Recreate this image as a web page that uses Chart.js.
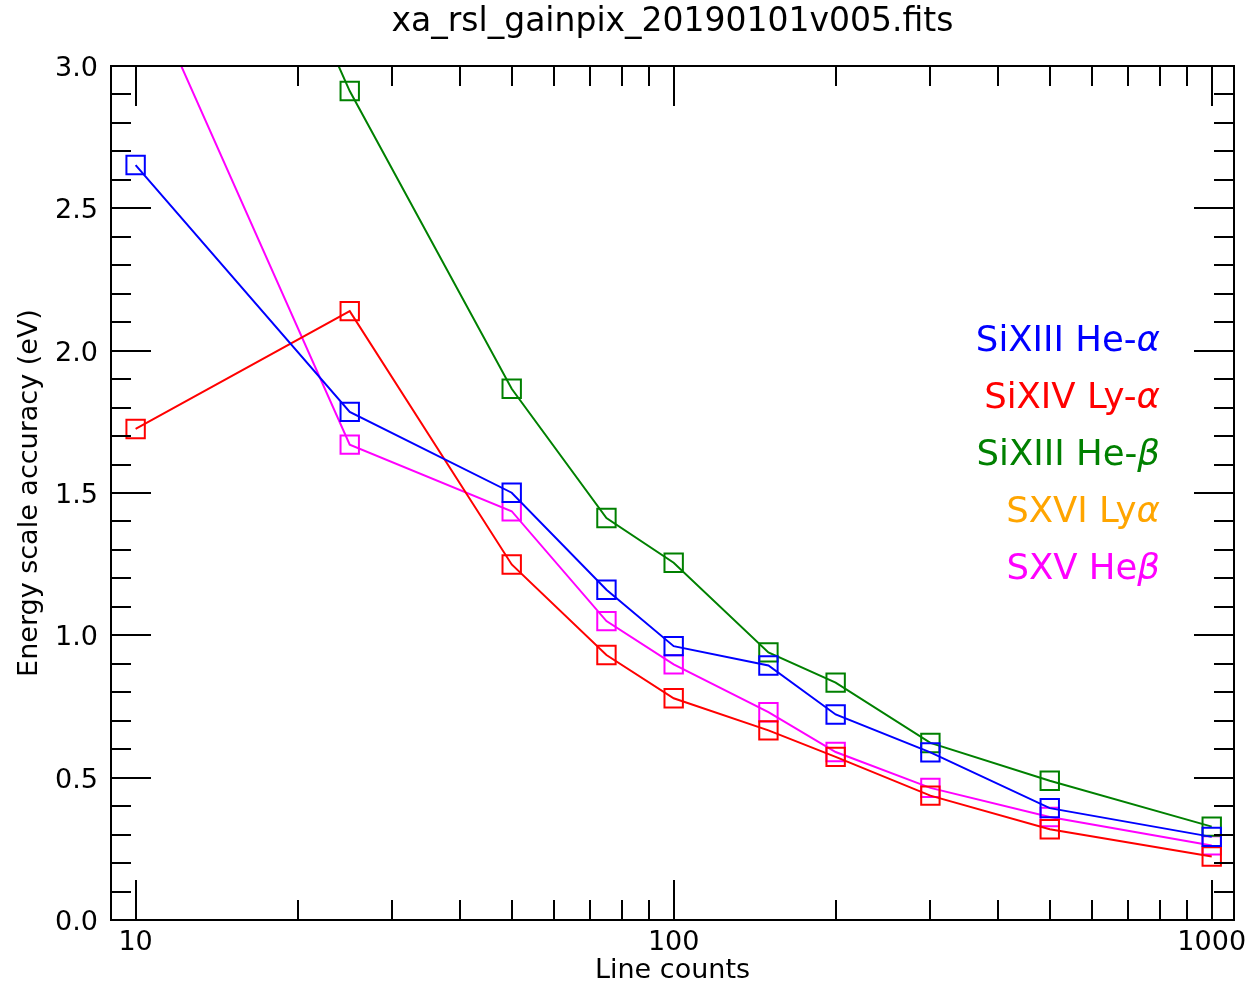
<!DOCTYPE html>
<html>
<head>
<meta charset="utf-8">
<script src="https://cdn.jsdelivr.net/npm/chart.js@4/dist/chart.umd.min.js"></script>
<style>
  body { margin: 0; background: #fff; }
</style>
</head>
<body>
<canvas id="gainChart" width="1247" height="981"></canvas>
<script>
// line counts (x) and energy scale accuracy in eV (y)
const lineCounts = [10, 25, 50, 75, 100, 150, 200, 300, 500, 1000];

const siXIIIHeA = [2.652, 1.785, 1.501, 1.160, 0.962, 0.894, 0.722, 0.589, 0.393, 0.292];
const siXIVLyA  = [1.725, 2.139, 1.249, 0.931, 0.779, 0.666, 0.573, 0.437, 0.319, 0.223];
const siXIIIHeB = [4.6, 2.912, 1.866, 1.412, 1.255, 0.940, 0.834, 0.622, 0.489, 0.328];
const sXVILyA   = [null, null, null, null, null, null, null, null, null, null];
const sXVHeB    = [3.36, 1.670, 1.436, 1.050, 0.898, 0.730, 0.590, 0.464, 0.362, 0.262];

const seriesLabels = ['SiXIII He-α', 'SiXIV Ly-α', 'SiXIII He-β', 'SXVI Lyα', 'SXV Heβ'];
const seriesColors = ['#0000ff', '#ff0000', '#008000', '#ffa500', '#ff00ff'];
const seriesValues = [siXIIIHeA, siXIVLyA, siXIIIHeB, sXVILyA, sXVHeB];

const xTickLabels = [10, 100, 1000];
const chartTitle = 'xa_rsl_gainpix_20190101v005.fits';
const FONT = 'DejaVu Sans';

function toPoints(values) {
    return lineCounts.map((c, i) => ({ x: c, y: values[i] }));
}

// inward ticks on all four sides + the box
const frameTicks = {
    id: 'frameTicks',
    afterDatasetsDraw(chart) {
        const { ctx, chartArea: a, scales: { x, y } } = chart;
        ctx.save();
        ctx.strokeStyle = '#000';
        ctx.lineWidth = 2;
        ctx.beginPath();

        // x ticks (log decades)
        for (let d = 10; d <= 1000; d *= 10) {
            const top = d === 1000 ? 1 : 9;
            for (let k = 1; k <= top; k++) {
                const v = k * d;
                if (v < x.min || v > x.max) continue;
                const px = Math.round(x.getPixelForValue(v));
                const len = k === 1 ? 40 : 20;
                ctx.moveTo(px, a.bottom); ctx.lineTo(px, a.bottom - len);
                ctx.moveTo(px, a.top); ctx.lineTo(px, a.top + len);
            }
        }
        // y ticks every 0.1, major every 0.5
        for (let i = 0; i <= 30; i++) {
            const py = Math.round(y.getPixelForValue(i / 10));
            const len = i % 5 === 0 ? 40 : 20;
            ctx.moveTo(a.left, py); ctx.lineTo(a.left + len, py);
            ctx.moveTo(a.right, py); ctx.lineTo(a.right - len, py);
        }
        ctx.stroke();
        ctx.strokeRect(a.left, a.top, a.right - a.left, a.bottom - a.top);
        ctx.restore();
    }
};

// title centred over the plot box
const boxTitle = {
    id: 'boxTitle',
    afterDraw(chart) {
        const { ctx, chartArea: a } = chart;
        ctx.save();
        ctx.font = '33px "' + FONT + '"';
        ctx.fillStyle = '#000';
        ctx.textAlign = 'center';
        ctx.textBaseline = 'middle';
        ctx.fillText(chartTitle, (a.left + a.right) / 2, 22);
        ctx.restore();
    }
};

// coloured text legend, greek letter in italics
const textLegend = {
    id: 'textLegend',
    afterDraw(chart) {
        const { ctx, chartArea: a } = chart;
        const rightX = a.right - 74;
        ctx.save();
        ctx.textBaseline = 'middle';
        chart.data.datasets.forEach((ds, i) => {
            const label = ds.label;
            const last = label.slice(-1);
            const greek = /[α-ω]/.test(last);
            const head = greek ? label.slice(0, -1) : label;
            const yy = a.top + 276 + i * 57;
            ctx.fillStyle = ds.borderColor;
            let x0 = rightX;
            if (greek) {
                ctx.font = 'italic 35.5px "' + FONT + '"';
                const w = ctx.measureText(last).width;
                x0 = rightX - w;
                ctx.textAlign = 'left';
                ctx.fillText(last, x0, yy);
            }
            ctx.font = '35.5px "' + FONT + '"';
            ctx.textAlign = 'right';
            ctx.fillText(head, x0, yy);
        });
        ctx.restore();
    }
};

new Chart(document.getElementById('gainChart'), {
    type: 'line',
    data: {
        datasets: seriesLabels.map((label, i) => ({
            label: label,
            data: toPoints(seriesValues[i]),
            borderColor: seriesColors[i],
            backgroundColor: 'rgba(0,0,0,0)',
            borderWidth: 2,
            pointStyle: 'rect',
            pointRadius: 13,
            pointBorderWidth: 2,
            pointBorderColor: seriesColors[i],
            pointBackgroundColor: 'rgba(0,0,0,0)',
            tension: 0,
            spanGaps: false
        }))
    },
    options: {
        responsive: false,
        animation: false,
        devicePixelRatio: 1,
        layout: { autoPadding: false, padding: { left: 0, right: 13, top: 66, bottom: 0 } },
        plugins: {
            legend: { display: false },
            tooltip: { enabled: false },
            title: { display: false }
        },
        scales: {
            x: {
                type: 'logarithmic',
                min: 9,
                max: 1100,
                grid: { display: false, drawTicks: false },
                border: { display: false },
                afterBuildTicks(scale) {
                    scale.ticks = xTickLabels.map(v => ({ value: v }));
                },
                afterFit(scale) {
                    scale.height = 61;
                    scale.paddingLeft = 0;
                    scale.paddingRight = 0;
                },
                ticks: {
                    color: '#000',
                    padding: 7,
                    maxRotation: 0,
                    autoSkip: false,
                    font: { family: FONT, size: 27 },
                    callback: v => String(v)
                },
                title: {
                    display: true,
                    text: 'Line counts',
                    color: '#000',
                    font: { family: FONT, size: 27, lineHeight: 0.75 },
                    padding: { top: 0, bottom: 0 }
                }
            },
            y: {
                min: 0,
                max: 3,
                grid: { display: false, drawTicks: false },
                border: { display: false },
                afterFit(scale) {
                    scale.width = 111;
                    scale.paddingTop = 0;
                    scale.paddingBottom = 0;
                },
                ticks: {
                    stepSize: 0.5,
                    color: '#000',
                    padding: 13,
                    labelOffset: 3,
                    font: { family: FONT, size: 27 },
                    callback: v => v.toFixed(1)
                },
                title: {
                    display: true,
                    text: 'Energy scale accuracy (eV)',
                    color: '#000',
                    font: { family: FONT, size: 27, lineHeight: 1.2 },
                    padding: { top: 13.5, bottom: 0 }
                }
            }
        }
    },
    plugins: [frameTicks, boxTitle, textLegend]
});
</script>
</body>
</html>
